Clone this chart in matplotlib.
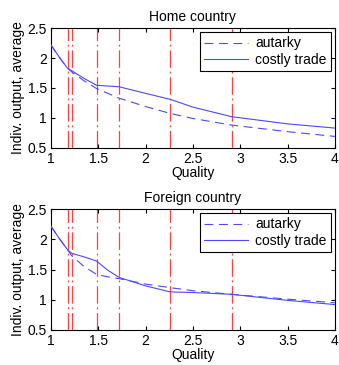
import matplotlib
matplotlib.use("Agg")
import matplotlib.pyplot as plt

plt.rcParams['font.family'] = ['Liberation Sans', 'DejaVu Sans']

thresholds = [1.176, 1.219, 1.483, 1.721, 2.26, 2.909]

home_x = [1.0, 1.1, 1.176, 1.219, 1.35, 1.483, 1.721, 2.0, 2.26, 2.5, 2.909, 3.5, 4.0]
home_autarky = [2.22, 1.99, 1.83, 1.77, 1.62, 1.49, 1.33, 1.19, 1.075, 0.99, 0.88, 0.77, 0.69]
home_trade = [2.22, 1.99, 1.83, 1.79, 1.66, 1.545, 1.52, 1.41, 1.31, 1.18, 1.02, 0.90, 0.83]

foreign_x = [1.0, 1.1, 1.176, 1.219, 1.35, 1.483, 1.6, 1.721, 2.0, 2.26, 2.5, 2.909, 3.5, 4.0]
foreign_autarky = [2.22, 1.99, 1.83, 1.73, 1.55, 1.42, 1.38, 1.35, 1.26, 1.20, 1.15, 1.09, 1.01, 0.95]
foreign_trade = [2.22, 1.99, 1.83, 1.77, 1.71, 1.64, 1.49, 1.37, 1.23, 1.13, 1.12, 1.09, 0.99, 0.92]

fig = plt.figure(figsize=(3.39, 3.65), dpi=100)
ax1 = fig.add_axes([0.150, 0.595, 0.838, 0.328])
ax2 = fig.add_axes([0.150, 0.096, 0.838, 0.331])

blue = '#4a4aff'
for ax, x, aut, tr, title in [(ax1, home_x, home_autarky, home_trade, 'Home country'),
                              (ax2, foreign_x, foreign_autarky, foreign_trade, 'Foreign country')]:
    for t in thresholds:
        ax.axvline(t, color='#ff4040', linestyle=(0, (14, 3, 1.5, 3)), linewidth=0.9, zorder=1)
    ax.plot(x, aut, color=blue, linestyle=(0, (8, 5)), linewidth=0.8, label='autarky', zorder=3)
    ax.plot(x, tr, color=blue, linestyle='-', linewidth=0.8, label='costly trade', zorder=3)
    ax.set_xlim(1, 4)
    ax.set_ylim(0.5, 2.5)
    ax.set_xticks([1, 1.5, 2, 2.5, 3, 3.5, 4])
    ax.set_xticklabels(['1', '1.5', '2', '2.5', '3', '3.5', '4'])
    ax.set_yticks([0.5, 1, 1.5, 2, 2.5])
    ax.set_yticklabels(['0.5', '1', '1.5', '2', '2.5'])
    ax.tick_params(direction='in', top=True, right=True, labelsize=10, length=3, pad=3)
    ax.set_title(title, fontsize=10, pad=5)
    ax.set_xlabel('Quality', fontsize=10, labelpad=0)
    ax.set_ylabel('Indiv. output, average', fontsize=10, labelpad=2)
    leg = ax.legend(loc='upper right', fontsize=10, frameon=True, fancybox=False,
                    edgecolor='black', framealpha=1, handlelength=3.2,
                    borderpad=0.3, labelspacing=0.2, handletextpad=0.5,
                    borderaxespad=0.3)
    leg.get_frame().set_linewidth(0.8)
    for s in ax.spines.values():
        s.set_linewidth(0.8)

fig.savefig('out.png', dpi=100)
